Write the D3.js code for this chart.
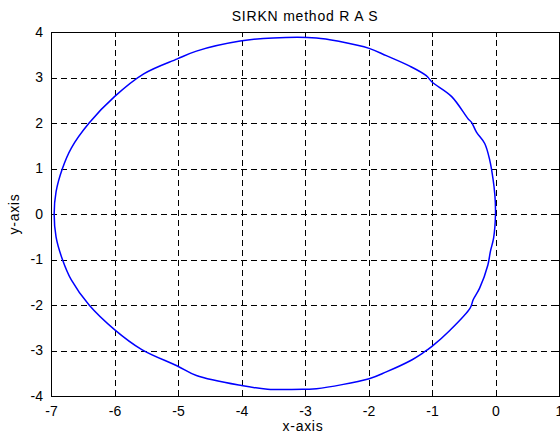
<!DOCTYPE html>
<html>
<head>
<meta charset="utf-8">
<script src="https://cdn.jsdelivr.net/npm/d3@7"></script>
<style>
    body{margin:0;background:#fff}
    text{font-family:Arial,"Liberation Sans",Helvetica,sans-serif;font-size:14px;fill:#000}
</style>
</head>
<body>
<svg id="chart" width="560" height="434"></svg>
<script>
'use strict';

// trajectory, closed loop
var xs=[-3.50,-4.02,-4.71,-5.01,-5.54,-6.00,-6.40,-6.68,-6.82,-6.92,-6.95,-6.92,-6.82,-6.68,-6.40,-6.00,-5.57,-5.01,-4.71,-4.00,-3.59,-2.98,-2.82,-1.99,-1.72,-1.35,-1.14,-1.00,-0.72,-0.40,-0.35,-0.25,-0.12,-0.08,-0.03,0.00,-0.01,-0.04,-0.09,-0.17,-0.30,-0.38,-0.43,-0.69,-1.00,-1.09,-1.35,-1.72,-1.99,-2.45,-2.82]
  , ys=[3.87,3.80,3.58,3.41,3.08,2.58,2.00,1.45,1.00,0.49,0.00,-0.51,-1.00,-1.45,-2.00,-2.54,-2.98,-3.34,-3.55,-3.77,-3.85,-3.85,-3.84,-3.62,-3.47,-3.23,-3.05,-2.91,-2.56,-2.07,-1.88,-1.63,-1.12,-0.82,-0.53,0.00,0.42,0.78,1.18,1.55,1.80,2.02,2.09,2.58,2.90,3.04,3.25,3.48,3.64,3.79,3.87]
  , xticks=[-7,-6,-5,-4,-3,-2,-1,0,1]
  , yticks=[-4,-3,-2,-1,0,1,2,3,4]
  , title='SIRKN method R A S'
  , xlabel='x-axis'
  , ylabel='y-axis'

var svg=d3.select('#chart')
  , pl=51
  , pr=559
  , pt=32
  , pb=396

var x=d3.scaleLinear().domain([-7,1]).range([pl,pr])
  , y=d3.scaleLinear().domain([-4,4]).range([pb,pt])

var fmt=function(d){return d<0?'-'+Math.abs(d):''+d}

// grid
var grid=svg.append('g')
    .attr('stroke','#000')
    .attr('stroke-width',1)
    .attr('stroke-dasharray','6,4')
    .attr('shape-rendering','crispEdges')

grid.selectAll('line.v')
    .data(xticks.slice(1,-1))
    .enter().append('line')
    .attr('class','v')
    .attr('x1',function(d){return Math.round(x(d))+0.5})
    .attr('x2',function(d){return Math.round(x(d))+0.5})
    .attr('y1',pb)
    .attr('y2',pt);

grid.selectAll('line.h')
    .data(yticks.slice(1,-1))
    .enter().append('line')
    .attr('class','h')
    .attr('y1',function(d){return Math.round(y(d))+0.5})
    .attr('y2',function(d){return Math.round(y(d))+0.5})
    .attr('x1',pl)
    .attr('x2',pr);

// axes, matlab style inward ticks
svg.append('g')
    .attr('class','ax lab')
    .attr('transform','translate(0,'+pb+')')
    .call(d3.axisBottom(x).tickValues(xticks).tickSizeInner(-5).tickSizeOuter(0).tickPadding(10).tickFormat(fmt));
svg.append('g')
    .attr('class','ax')
    .attr('transform','translate(0,'+pt+')')
    .call(d3.axisTop(x).tickValues(xticks).tickSizeInner(-5).tickSizeOuter(0));
svg.append('g')
    .attr('class','ax lab')
    .attr('transform','translate('+pl+',0)')
    .call(d3.axisLeft(y).tickValues(yticks).tickSizeInner(-5).tickSizeOuter(0).tickPadding(8).tickFormat(fmt));
svg.append('g')
    .attr('class','ax')
    .attr('transform','translate('+pr+',0)')
    .call(d3.axisRight(y).tickValues(yticks).tickSizeInner(-5).tickSizeOuter(0));

svg.selectAll('.ax:not(.lab) .tick text').remove();
svg.selectAll('.domain,.tick line')
    .attr('stroke','#000')
    .attr('shape-rendering','crispEdges');
svg.selectAll('.tick text')
    .attr('font-family','Arial,"Liberation Sans",sans-serif')
    .attr('font-size',14)
    .attr('fill','#000');

// curve
svg.append('path')
    .datum(d3.range(xs.length))
    .attr('fill','none')
    .attr('stroke','#0000ff')
    .attr('stroke-width',1.5)
    .attr('d',d3.line()
        .curve(d3.curveCatmullRomClosed)
        .x(function(i){return x(xs[i])})
        .y(function(i){return y(ys[i])}));

// labels
svg.append('text')
    .attr('x',(pl+pr)/2)
    .attr('y',20.5)
    .attr('text-anchor','middle')
    .attr('font-size',15)
    .attr('letter-spacing','0.8px')
    .text(title);
svg.append('text')
    .attr('x',(pl+pr)/2-2)
    .attr('y',431)
    .attr('text-anchor','middle')
    .attr('letter-spacing','0.7px')
    .text(xlabel);
svg.append('text')
    .attr('transform','translate(19,'+(pt+pb)/2+') rotate(-90)')
    .attr('text-anchor','middle')
    .attr('letter-spacing','0.7px')
    .text(ylabel);
</script>
</body>
</html>
